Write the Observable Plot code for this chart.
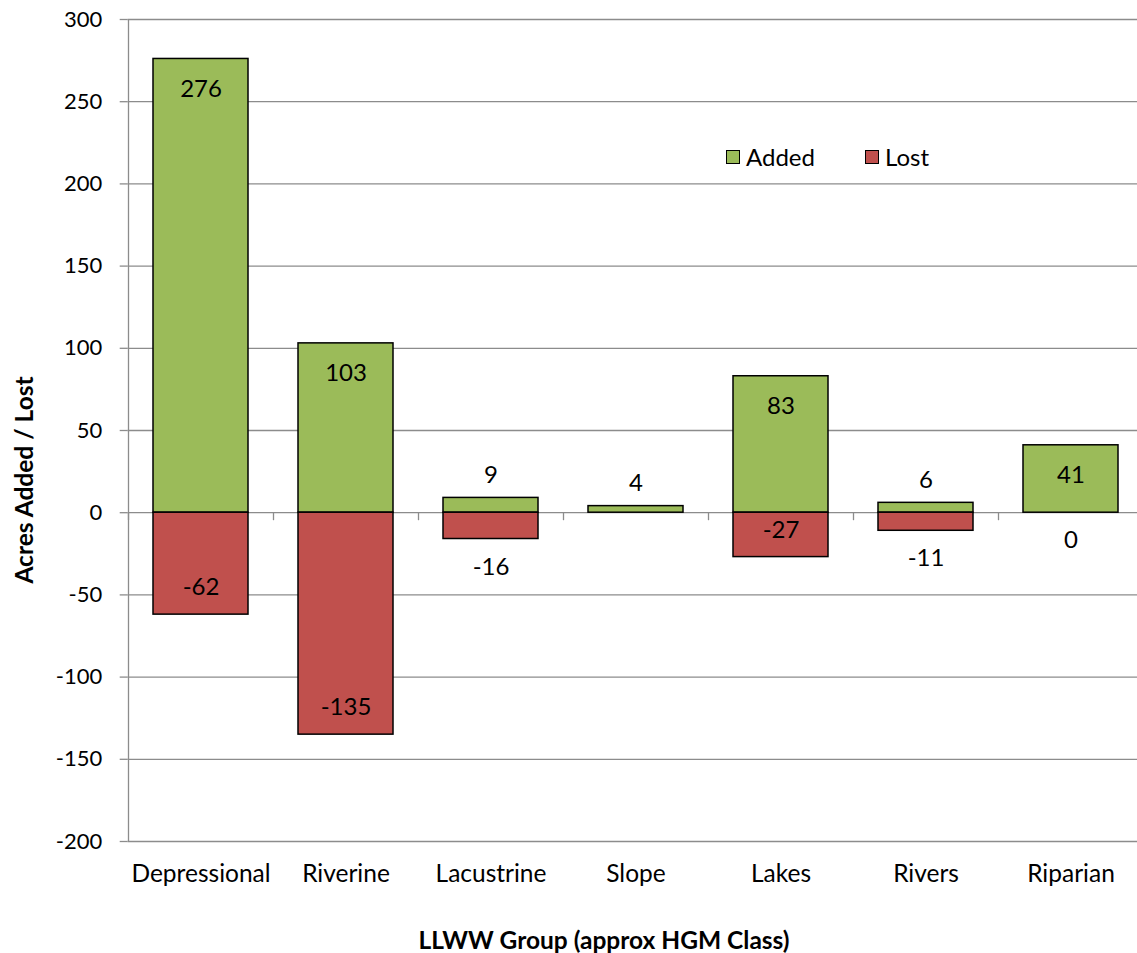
<!DOCTYPE html>
<html>
<head>
<meta charset="utf-8">
<script src="https://cdn.jsdelivr.net/npm/d3@7"></script>
<script src="https://cdn.jsdelivr.net/npm/@observablehq/plot@0.6"></script>
<style>
  html, body { margin: 0; padding: 0; background: #fff; overflow: hidden; }
  #wrap { position: relative; width: 1137px; height: 953px; overflow: hidden; }
  #wrap svg { overflow: visible; }
  .legend { position: absolute; top: 142px; left: 726px; font-family: Lato, sans-serif; font-size: 24px; color: #000; display: flex; gap: 50px; align-items: center; }
  .legend span.item { display: flex; align-items: center; gap: 6px; }
  .legend span.sw { width: 12px; height: 12px; border: 1.5px solid #000; display: inline-block; }
  .atitle { position: absolute; font-family: Lato, sans-serif; font-weight: bold; font-size: 24.5px; color: #000; white-space: nowrap; line-height: 1; }
  #xtitle { left: 604px; top: 940px; transform: translate(-50%, -50%); }
  #ytitle { left: 24px; top: 480px; transform: translate(-50%, -50%) rotate(-90deg); }
</style>
</head>
<body>
<div id="wrap"></div>
<script>
const categories = ["Depressional", "Riverine", "Lacustrine", "Slope", "Lakes", "Rivers", "Riparian"];
const added = [276, 103, 9, 4, 83, 6, 41];
const lost = [-62, -135, -16, null, -27, -11, 0];
const yTicks = [-200, -150, -100, -50, 0, 50, 100, 150, 200, 250, 300];
const seriesNames = ["Added", "Lost"];
const colors = ["#9BBB59", "#C0504D"];
const xTitle = "LLWW Group (approx HGM Class)";
const yTitle = "Acres Added / Lost";

const rows = [];
categories.forEach((c, i) => {
  rows.push({cat: c, series: "Added", value: added[i]});
  if (lost[i] !== null) rows.push({cat: c, series: "Lost", value: lost[i]});
});

const W = 1137, H = 953;
const mL = 127.7, mR = -5.7, mT = 19, mB = 112;
const step = (W - mL - mR) / categories.length;
const gap = 0.345;

const isInside = d => Math.abs(d.value) >= 20;
const isAdded = d => d.series === "Added";
const lbl = (filter, dy) => Plot.text(rows, {filter, x: "cat", y: "value", text: d => String(d.value), dy, fontSize: 24, fill: "#000"});

const chart = Plot.plot({
  width: W, height: H,
  marginLeft: mL, marginRight: mR, marginTop: mT, marginBottom: mB,
  style: {fontFamily: "Lato, sans-serif", fontSize: "22px", color: "#000", background: "#fff"},
  x: {domain: categories, paddingInner: gap, paddingOuter: gap / 2, label: null},
  y: {domain: [-200, 300], label: null},
  marks: [
    Plot.gridY(yTicks, {stroke: "#8c8c8c", strokeOpacity: 1, strokeWidth: 1.3}),
    Plot.ruleX([categories[0]], {y1: -200, y2: 300, dx: -step / 2, stroke: "#8c8c8c", strokeWidth: 1.3}),
    Plot.ruleX(categories, {y1: 0, y2: 0, insetBottom: -8, dx: -step / 2, stroke: "#8c8c8c", strokeWidth: 1.3}),
    Plot.barY(rows, {x: "cat", y1: 0, y2: "value", fill: d => d.series === "Added" ? colors[0] : colors[1], stroke: "#000", strokeWidth: 1.5}),
    lbl(d => isAdded(d) && isInside(d), 30),
    lbl(d => isAdded(d) && !isInside(d), -23),
    lbl(d => !isAdded(d) && isInside(d), -27),
    lbl(d => !isAdded(d) && !isInside(d), 28),
    Plot.axisY(yTicks, {tickSize: 8, tickPadding: 18, stroke: "#8c8c8c", strokeWidth: 1.3, fontSize: 22, label: null, tickFormat: d => String(d)}),
    Plot.axisX({tickSize: 0, tickPadding: 23, fontSize: 24.5, label: null})
  ]
});
const wrap = document.getElementById("wrap");
wrap.appendChild(chart);

const leg = document.createElement("div");
leg.className = "legend";
seriesNames.forEach((s, i) => {
  const it = document.createElement("span");
  it.className = "item";
  const sw = document.createElement("span");
  sw.className = "sw";
  sw.style.background = colors[i];
  it.appendChild(sw);
  it.appendChild(document.createTextNode(s));
  leg.appendChild(it);
});
wrap.appendChild(leg);

const xt = document.createElement("div");
xt.className = "atitle"; xt.id = "xtitle"; xt.textContent = xTitle;
wrap.appendChild(xt);
const yt = document.createElement("div");
yt.className = "atitle"; yt.id = "ytitle"; yt.textContent = yTitle;
wrap.appendChild(yt);
</script>
</body>
</html>
